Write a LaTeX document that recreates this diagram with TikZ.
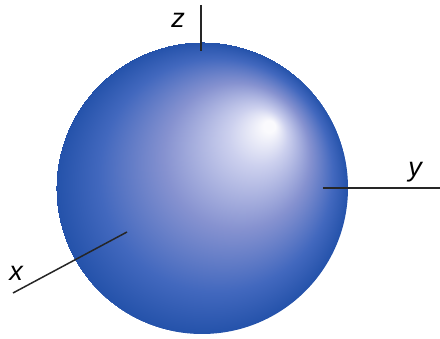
\documentclass[tikz,border=0pt]{standalone}
\usepackage{fontspec}
\setsansfont{Liberation Sans}
\definecolor{rimBlue}{RGB}{36,82,170}
\definecolor{bodyBlue}{RGB}{66,104,190}
\definecolor{midBlue}{RGB}{134,146,208}
\definecolor{paleBlue}{RGB}{204,208,238}
\definecolor{glowWhite}{RGB}{250,250,253}
\pgfdeclareradialshading{sphereShade}{\pgfpoint{12bp}{11bp}}{%
  color(0bp)=(glowWhite); color(1bp)=(glowWhite); color(5bp)=(paleBlue);
  color(12.5bp)=(midBlue); color(20bp)=(bodyBlue); color(25bp)=(rimBlue)}
\tikzset{
  sphereBall/.style={circle,shade,shading=sphereShade,minimum size=292pt,inner sep=0pt},
  axisLine/.style={draw=black!85,line width=1.5pt},
  axisLabel/.style={font=\fontsize{27}{31}\selectfont\sffamily\itshape,inner sep=0pt}
}

\begin{document}
\begin{tikzpicture}[x=1pt,y=1pt]
  \useasboundingbox (0,0) rectangle (440,339);
  \node[sphereBall] (ball) at (202,151) {};
  % axes
  \coordinate (zOut) at (201,334);
  \coordinate (zIn) at (201,288);
  \coordinate (yIn) at (323,151);
  \coordinate (yOut) at (440,151);
  \coordinate (xIn) at (127,107);
  \coordinate (xOut) at (13,46);
  \draw[axisLine] (zOut) -- (zIn);
  \draw[axisLine] (yIn) -- (yOut);
  \draw[axisLine] (xIn) -- (xOut);
  \node[axisLabel] (zLab) at (178,319) {z};
  \node[axisLabel] (yLab) at (415,167) {y};
  \node[axisLabel] (xLab) at (16,66) {x};
\end{tikzpicture}
\end{document}
